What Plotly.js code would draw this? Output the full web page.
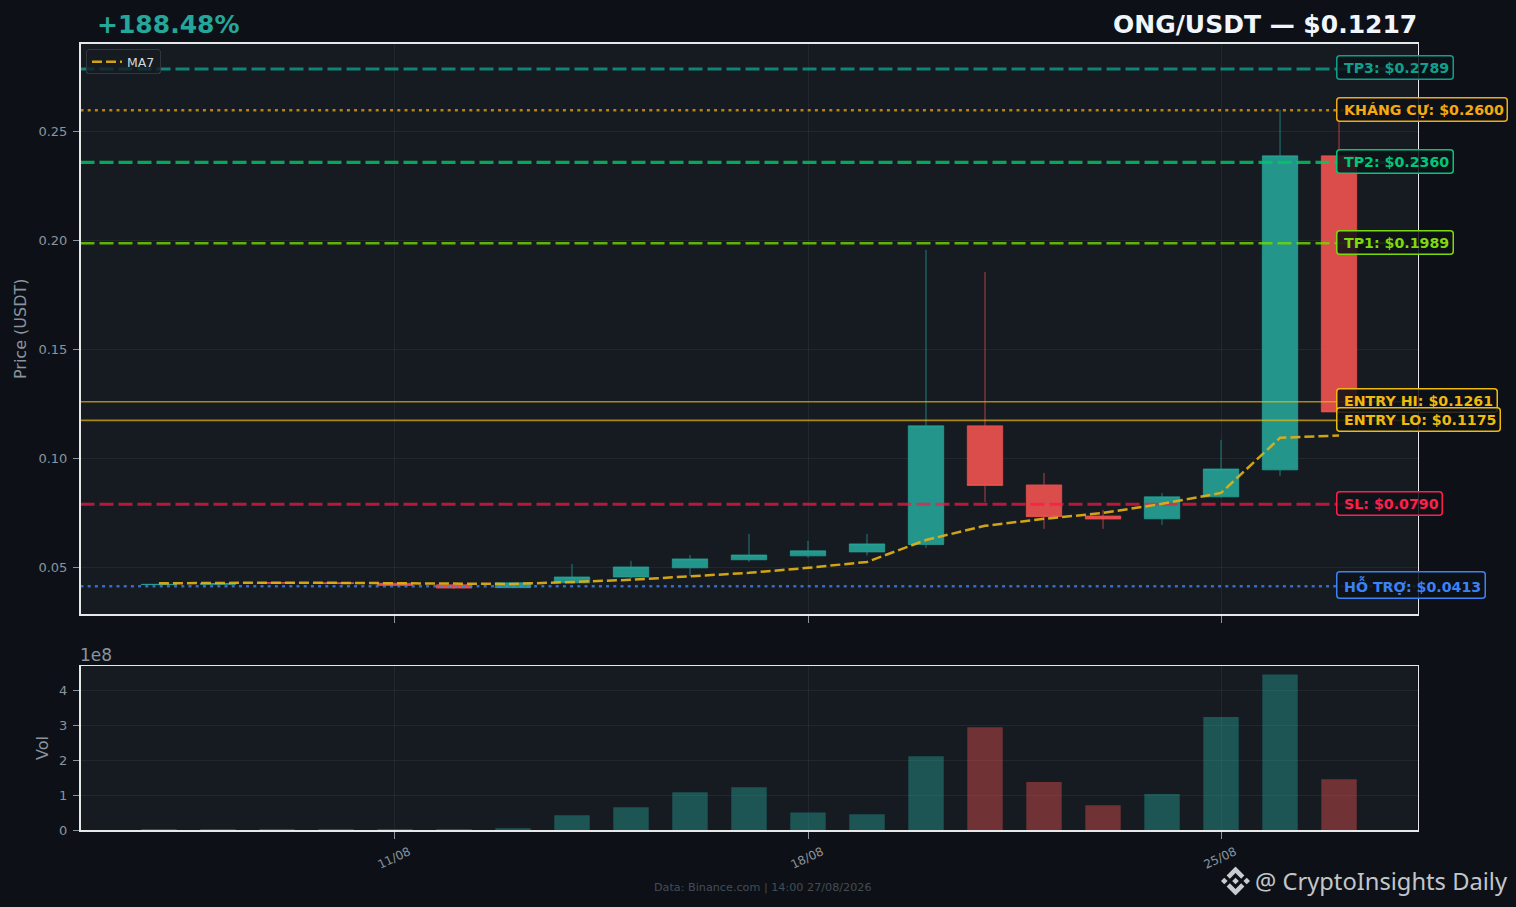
<!DOCTYPE html>
<html>
<head>
<meta charset="utf-8">
<script src="https://cdn.plot.ly/plotly-3.0.1.min.js"></script>
<style>
html,body{margin:0;padding:0;background:#0d1117;overflow:hidden}
#chart{width:1516px;height:907px}
.annotation rect.bg{rx:3px;ry:3px}
.legend rect.bg{rx:3px;ry:3px;height:24px;transform:translateY(3px)}
</style>
</head>
<body>
<div id="chart"></div>
<script>
const dates = ['07/08','08/08','09/08','10/08','11/08','12/08','13/08','14/08','15/08','16/08','17/08','18/08','19/08','20/08','21/08','22/08','23/08','24/08','25/08','26/08','27/08'];
const opens  = [0.0421,0.0422,0.0430,0.0430,0.0427,0.0420,0.0407,0.0429,0.0456,0.0498,0.0535,0.0553,0.0571,0.0605,0.1150,0.0879,0.0736,0.0723,0.0824,0.0948,0.2390];
const highs  = [0.0426,0.0428,0.0434,0.0432,0.0430,0.0422,0.0431,0.0516,0.0530,0.0557,0.0654,0.0622,0.0654,0.1958,0.1857,0.0934,0.0764,0.0842,0.1086,0.2601,0.2555];
const lows   = [0.0419,0.0420,0.0426,0.0424,0.0415,0.0400,0.0404,0.0425,0.0450,0.0460,0.0525,0.0545,0.0555,0.0590,0.0800,0.0677,0.0677,0.0695,0.0820,0.0920,0.1214];
const closes = [0.0422,0.0426,0.0428,0.0426,0.0417,0.0405,0.0429,0.0456,0.0502,0.0539,0.0557,0.0576,0.0608,0.1150,0.0876,0.0733,0.0722,0.0824,0.0952,0.2390,0.1214];
const volumes = [0.03,0.03,0.03,0.03,0.03,0.03,0.05,0.42,0.65,1.08,1.22,0.50,0.45,2.11,2.94,1.37,0.71,1.03,3.23,4.45,1.45];
const ma7 = [0.0427,0.0429,0.0430,0.0429,0.0428,0.0426,0.0424,0.0433,0.0443,0.0459,0.0475,0.0498,0.0525,0.0626,0.0691,0.0723,0.0750,0.0792,0.0842,0.1095,0.1106];

const levelNames  = ['TP3','KHÁNG CỰ','TP2','TP1','ENTRY HI','ENTRY LO','SL','HỖ TRỢ'];
const levelValues = [0.2789,0.2600,0.2360,0.1989,0.1261,0.1175,0.0790,0.0413];
const levelLines  = ['rgba(13,168,148,0.75)','rgba(240,165,15,0.75)','rgba(0,200,100,0.82)','rgba(118,220,0,0.78)','rgba(240,185,11,0.68)','rgba(240,185,11,0.68)','rgba(255,23,68,0.7)','rgba(60,130,246,0.78)'];
const levelText   = ['#0fa08c','#f5a90f','#00c878','#7ed90a','#f0b90b','#f0b90b','#ff1f4b','#3b82f6'];
const levelDash   = ['14px,5px','3px,4.2px','14px,5px','14px,5px','solid','solid','14px,5px','3px,4.2px'];
const levelWidth  = [3.2,2.5,3.2,2.6,1.6,1.6,3.2,2.5];
const levelShift  = [1,1,1,1,1,1,1,1];

const xRange = [-1.33,21.33];
const idx = dates.map((d,i)=>i);
const tickDates = ['11/08','18/08','25/08'];
const tickIdx = tickDates.map(d=>dates.indexOf(d));
const volTicks = [0,1,2,3,4];
const priceTicks = [0.05,0.10,0.15,0.20,0.25];

const W=1516,H=907;
const xd=[80.5/W,1417.5/W];
const yd1=[1-614/H,1-43.5/H];
const yd2=[1-830/H,1-666/H];
const grid='rgba(255,255,255,0.055)';
const spine='#e6e8ea';
const tickc='#8b949e';

const traces=[];
traces.push({type:'candlestick',x:idx,open:opens,high:highs,low:lows,close:closes,xaxis:'x',yaxis:'y',showlegend:false,whiskerwidth:0,
  increasing:{line:{color:'rgba(38,166,154,0.7)',width:1},fillcolor:'rgba(38,166,154,0.88)'},
  decreasing:{line:{color:'rgba(239,83,80,0.7)',width:1},fillcolor:'rgba(239,83,80,0.9)'},hoverinfo:'skip'});
traces.push({type:'bar',x:idx,y:volumes,xaxis:'x2',yaxis:'y2',width:0.6,showlegend:false,hoverinfo:'skip',
  marker:{color:idx.map(i=>closes[i]>=opens[i]?'rgba(38,166,154,0.42)':'rgba(239,83,80,0.42)'),line:{width:0}}});
levelNames.forEach((n,i)=>{
  traces.push({type:'scatter',mode:'lines',x:xRange,y:[levelValues[i],levelValues[i]],xaxis:'x',yaxis:'y',showlegend:false,hoverinfo:'skip',
    line:{color:levelLines[i],width:levelWidth[i],dash:levelDash[i]}});
});
traces.push({type:'scatter',mode:'lines',name:'MA7',x:idx,y:ma7,xaxis:'x',yaxis:'y',showlegend:true,hoverinfo:'skip',
  line:{color:'rgba(226,176,20,0.92)',width:2.5,dash:'10px,4px'}});

const annotations=levelNames.map((n,i)=>({
  xref:'x',yref:'y',x:20,y:levelValues[i],xanchor:'left',yanchor:'middle',xshift:-3,yshift:levelShift[i],showarrow:false,
  text:'\u2005'+n+': $'+levelValues[i].toFixed(4),
  font:{family:'DejaVu Sans',size:14.2,color:levelText[i],weight:700},
  bgcolor:'rgba(13,17,23,0.85)',bordercolor:levelText[i],borderwidth:1.5,borderpad:3,opacity:1
}));
annotations.push({xref:'paper',yref:'paper',x:95/W,y:1-24/H,xanchor:'left',yanchor:'middle',showarrow:false,text:'+188.48%',font:{family:'DejaVu Sans',size:25,color:'#26a69a',weight:700}});
annotations.push({xref:'paper',yref:'paper',x:1419/W,y:1-24/H,xanchor:'right',yanchor:'middle',showarrow:false,text:'ONG/USDT — $0.1217',font:{family:'DejaVu Sans',size:25,color:'#f0f6fc',weight:700}});
annotations.push({xref:'paper',yref:'paper',x:78/W,y:1-655/H,xanchor:'left',yanchor:'middle',showarrow:false,text:'1e8',font:{family:'DejaVu Sans',size:17,color:tickc}});
annotations.push({xref:'paper',yref:'paper',x:762.5/W,y:1-887/H,xanchor:'center',yanchor:'middle',showarrow:false,text:'Data: Binance.com | 14:00 27/08/2026',font:{family:'DejaVu Sans',size:11.2,color:'#444c56'}});
annotations.push({xref:'paper',yref:'paper',x:1510/W,y:1-881/H,xanchor:'right',yanchor:'middle',showarrow:false,text:'@ CryptoInsights Daily',font:{family:'Noto Sans',size:23.7,color:'#c2c6ca'}});

const logo="data:image/svg+xml;utf8,"+encodeURIComponent('<svg xmlns="http://www.w3.org/2000/svg" viewBox="0 0 126.61 126.61"><g fill="#c8ccd0"><path d="M38.73 53.2l24.59-24.58 24.6 24.6 14.3-14.31L63.32 0 24.43 38.9z"/><path d="M0 63.31l14.3-14.31 14.31 14.31-14.31 14.3z"/><path d="M38.73 73.41l24.59 24.59 24.6-24.6 14.31 14.29-38.9 38.91-38.91-38.88z"/><path d="M98 63.31l14.3-14.31 14.31 14.31-14.31 14.3z"/><path d="M77.83 63.3L63.32 48.78 52.59 59.51l-1.24 1.23-2.54 2.54 14.51 14.53 14.51-14.5z"/></g></svg>');

const layout={
  width:W,height:H,margin:{l:0,r:0,t:0,b:0,pad:0},paper_bgcolor:'#0d1117',plot_bgcolor:'#161b22',
  font:{family:'DejaVu Sans',color:tickc},boxgap:0.4,boxgroupgap:0,
  xaxis:{domain:xd,anchor:'y',range:xRange,type:'linear',tickmode:'array',tickvals:tickIdx,ticktext:['','',''],ticks:'outside',ticklen:7,tickwidth:1,tickcolor:tickc,
    showgrid:true,gridcolor:grid,gridwidth:1,zeroline:false,showline:true,mirror:true,linecolor:spine,linewidth:1.5,rangeslider:{visible:false},fixedrange:true},
  yaxis:{domain:yd1,anchor:'x',range:[0.0286,0.2906],tickmode:'array',tickvals:priceTicks,ticktext:priceTicks.map(v=>v.toFixed(2)),ticks:'outside',ticklen:6,tickwidth:1,tickcolor:tickc,
    ticklabelstandoff:3,tickfont:{size:13,color:tickc},showgrid:true,gridcolor:grid,zeroline:false,showline:true,mirror:true,linecolor:spine,linewidth:1.5,
    title:{text:'Price (USDT)',font:{size:16,color:tickc},standoff:8},fixedrange:true},
  xaxis2:{domain:xd,anchor:'y2',range:xRange,type:'linear',tickmode:'array',tickvals:tickIdx,ticktext:tickDates,tickangle:-25,ticks:'outside',ticklen:7,tickwidth:1,tickcolor:tickc,
    ticklabelstandoff:2,ticklabelshift:14,tickfont:{size:12,color:tickc},showgrid:true,gridcolor:grid,zeroline:false,showline:true,mirror:true,linecolor:spine,linewidth:1.5,fixedrange:true},
  yaxis2:{domain:yd2,anchor:'x2',range:[0,4.69],tickmode:'array',tickvals:volTicks,ticktext:volTicks.map(String),ticks:'outside',ticklen:6,tickwidth:1,tickcolor:tickc,
    ticklabelstandoff:3,tickfont:{size:13,color:tickc},showgrid:true,gridcolor:grid,zeroline:false,showline:true,mirror:true,linecolor:spine,linewidth:1.5,
    title:{text:'Vol',font:{size:16,color:tickc},standoff:6},fixedrange:true},
  legend:{x:86/W,y:1-46/H,xanchor:'left',yanchor:'top',bgcolor:'rgba(22,27,34,0.8)',bordercolor:'#30363d',borderwidth:1,font:{family:'DejaVu Sans',size:12.5,color:'#d6d9dc'},itemwidth:30},
  annotations:annotations,
  images:[{source:logo,xref:'paper',yref:'paper',x:1235.5/W,y:1-881/H,sizex:29/W,sizey:29/H,xanchor:'center',yanchor:'middle',sizing:'contain',layer:'above'}]
};
Plotly.newPlot('chart',traces,layout,{displayModeBar:false,staticPlot:true});
</script>
</body>
</html>
